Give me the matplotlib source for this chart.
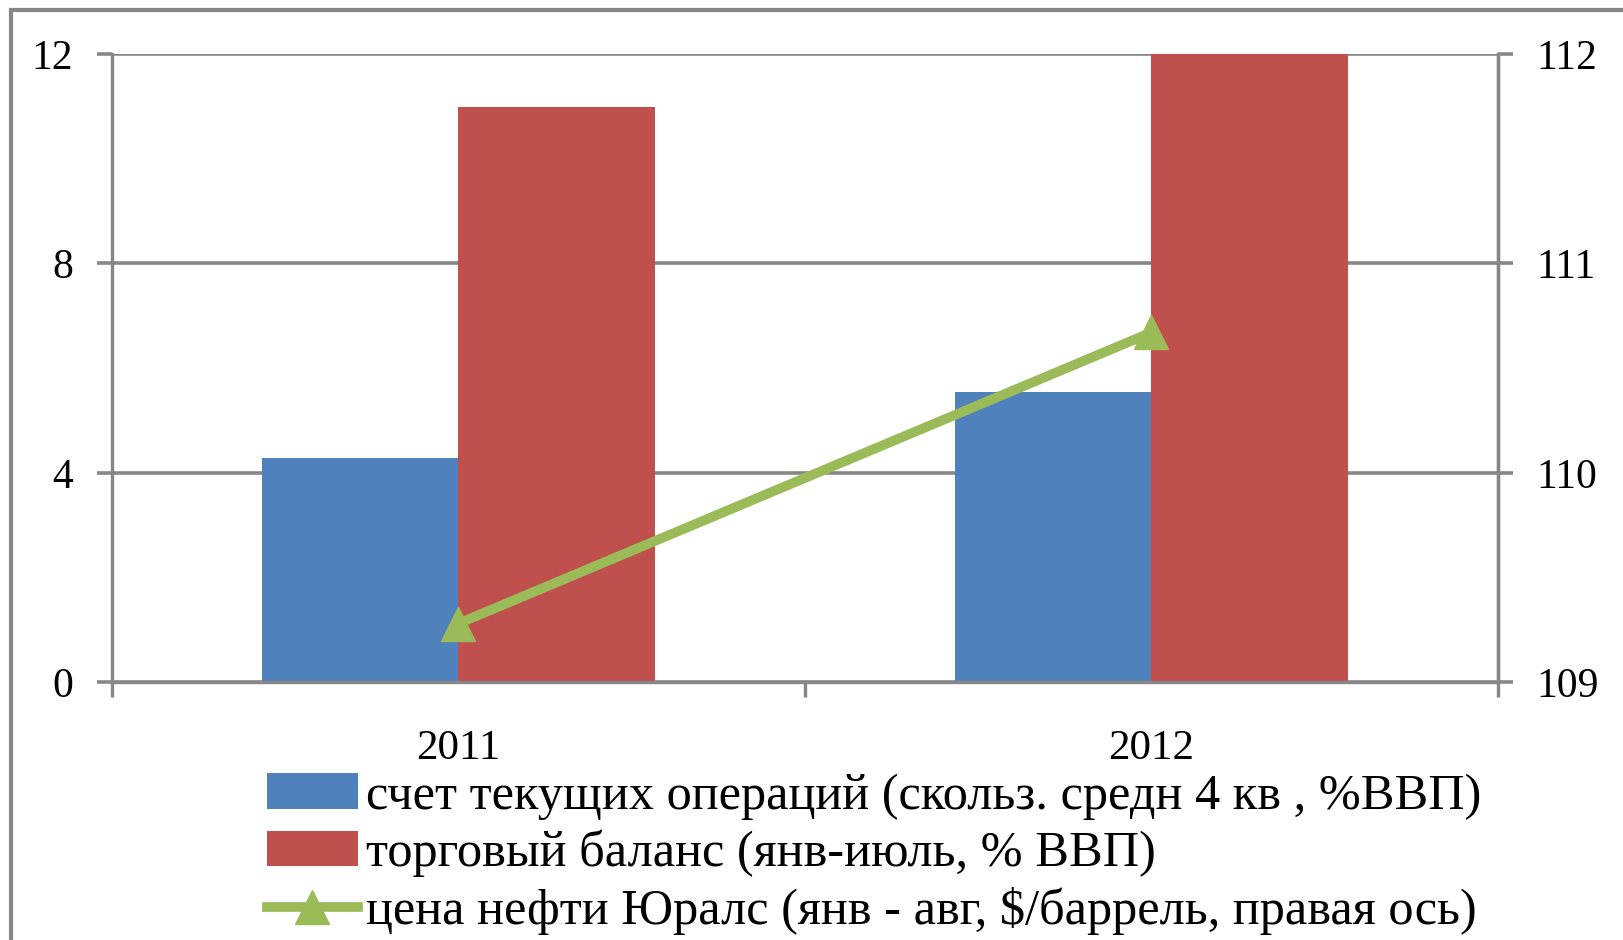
import matplotlib
matplotlib.use("Agg")
import matplotlib.pyplot as plt
import matplotlib.patches as mpatches
import numpy as np

plt.rcParams['font.family'] = ['Liberation Serif', 'DejaVu Serif']

# данные
years = ['2011', '2012']
current_account = [4.29, 5.55]      # счет текущих операций, % ВВП
trade_balance = [10.99, 12.0]       # торговый баланс, % ВВП
urals_price = [109.28, 110.67]      # цена нефти Юралс, $/баррель

labels = ['счет текущих операций (скольз. средн 4 кв , %ВВП)',
          'торговый баланс (янв-июль, % ВВП)',
          'цена нефти Юралс (янв - авг, $/баррель, правая ось)']

blue = '#4F81BD'
red = '#C0504D'
green = '#9BBB59'
gray = '#878787'

fig = plt.figure(figsize=(16.23, 9.40), dpi=100)
ax = fig.add_axes([0.0689, 0.2742, 0.854, 0.6685])

x = np.arange(len(years))
w = 0.284
b1 = ax.bar(x - w / 2, current_account, w, color=blue, zorder=2, label=labels[0])
b2 = ax.bar(x + w / 2, trade_balance, w, color=red, zorder=2, label=labels[1])

ax.set_xlim(-0.5, len(years) - 0.5)
ax.set_ylim(0, 12)
ax.set_yticks([0, 4, 8, 12])
ax.yaxis.grid(True, color=gray, linewidth=2.6, zorder=0)
ax.set_axisbelow(True)

# границы категорий - большие деления, подписи - на малых
ax.set_xticks(np.arange(len(years) + 1) - 0.5)
ax.set_xticklabels([])
ax.set_xticks(x, minor=True)
ax.set_xticklabels(years, minor=True)
ax.tick_params(axis='x', which='major', direction='out', length=11, width=2.4, color=gray)
ax.tick_params(axis='x', which='minor', length=0, pad=34, labelsize=31)
ax.tick_params(axis='y', direction='out', length=11, width=2.6, color=gray, pad=17, labelsize=30)

ax.spines['top'].set_visible(False)
for s in ['left', 'bottom', 'right']:
    ax.spines[s].set_color(gray)
    ax.spines[s].set_linewidth(2.4)

ax2 = ax.twinx()
ln, = ax2.plot(x, urals_price, color=green, linewidth=7, marker='^', markersize=24,
               zorder=3, label=labels[2])
ax2.set_ylim(109, 112)
ax2.set_yticks([109, 110, 111, 112])
ax2.tick_params(axis='y', direction='out', length=11, width=2.6, color=gray, pad=17, labelsize=30)
for s in ['top', 'left', 'bottom']:
    ax2.spines[s].set_visible(False)
ax2.spines['right'].set_color(gray)
ax2.spines['right'].set_linewidth(2.4)

# внешняя рамка
fig.patches.append(mpatches.Rectangle((0.0068, -0.1), 2, 1.1 - 0.0106, transform=fig.transFigure,
                                      fill=False, edgecolor=gray, linewidth=3))

fig.legend([b1, b2, ln], labels, loc='upper left', bbox_to_anchor=(0.1645, 0.1775),
           frameon=False, fontsize=36.3, handlelength=1.8, handletextpad=0.17,
           labelspacing=0.2, borderpad=0, borderaxespad=0, handleheight=0.7)

fig.savefig('out.png', dpi=100)
